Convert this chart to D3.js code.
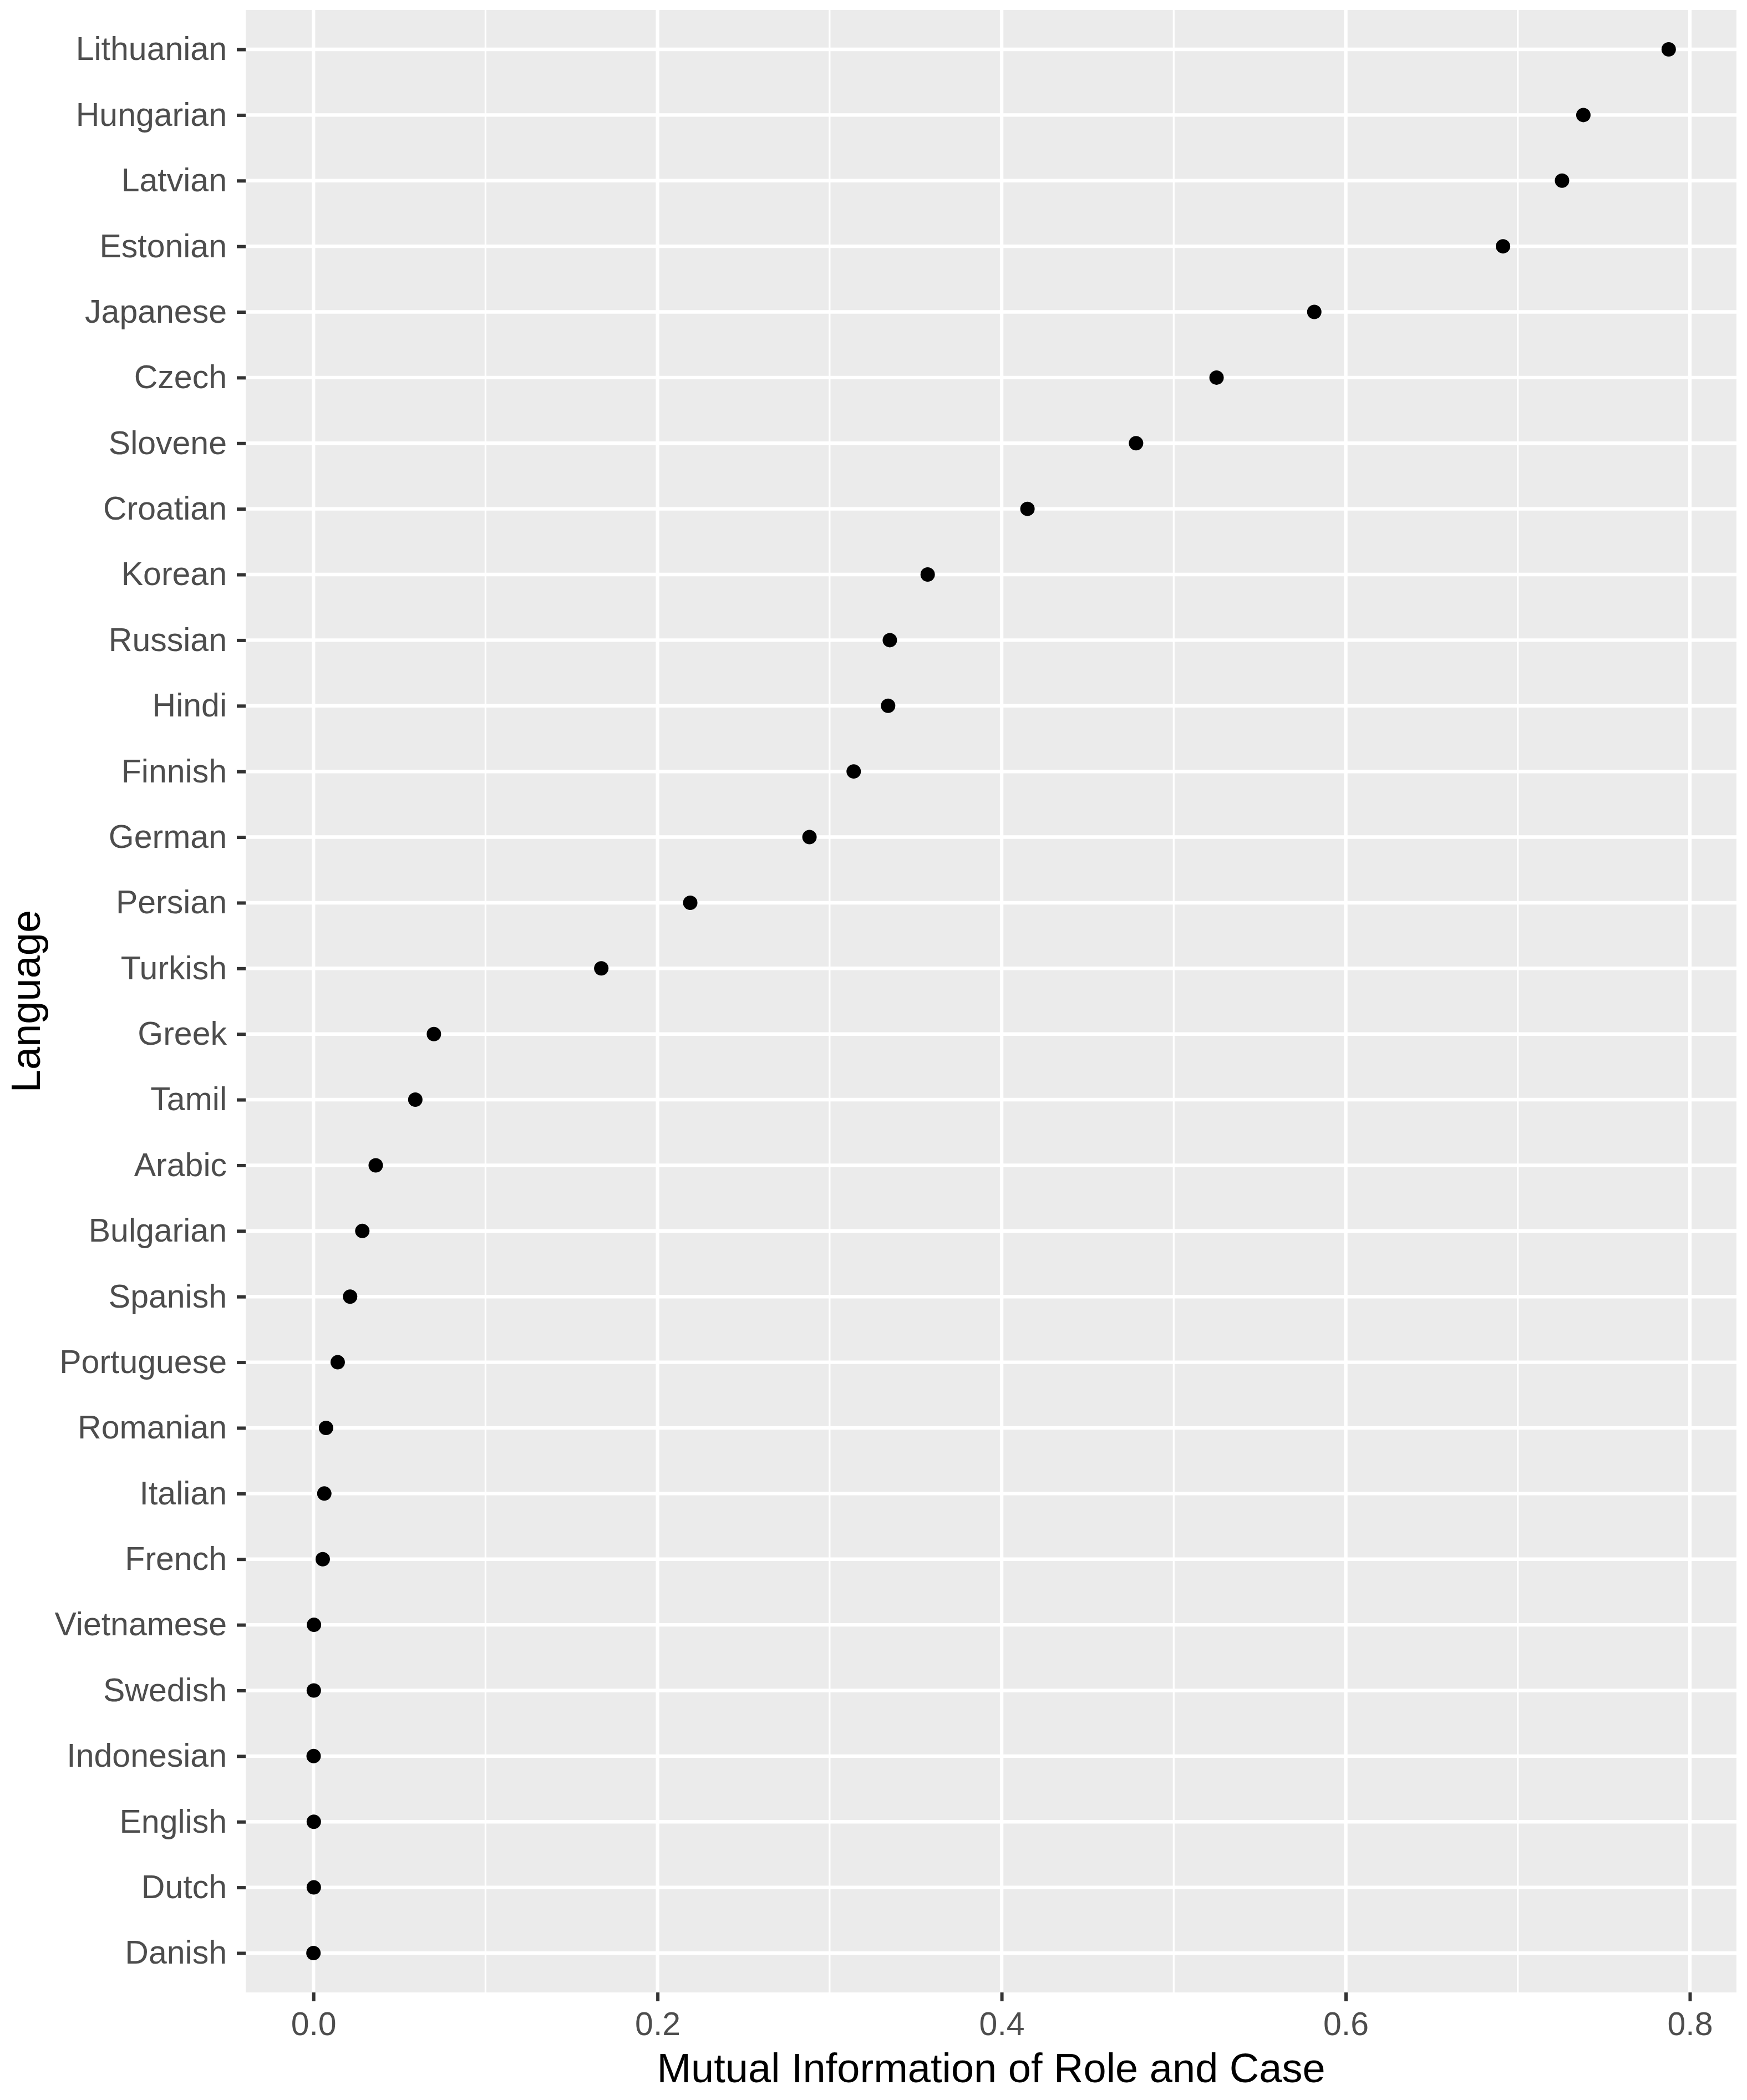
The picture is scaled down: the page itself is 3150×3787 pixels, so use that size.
<!DOCTYPE html>
<html>
<head>
<meta charset="utf-8">
<script src="https://cdn.jsdelivr.net/npm/d3@7"></script>
<style>
  body { margin: 0; background: #ffffff; }
  svg { display: block; font-family: "Liberation Sans", Arial, sans-serif; }
</style>
</head>
<body>
<div id="chart"></div>
<script>
// Languages, top to bottom, and their mutual information values.
const languages = [
  'Lithuanian', 'Hungarian', 'Latvian', 'Estonian', 'Japanese', 'Czech',
  'Slovene', 'Croatian', 'Korean', 'Russian', 'Hindi', 'Finnish', 'German',
  'Persian', 'Turkish', 'Greek', 'Tamil', 'Arabic', 'Bulgarian', 'Spanish',
  'Portuguese', 'Romanian', 'Italian', 'French', 'Vietnamese', 'Swedish',
  'Indonesian', 'English', 'Dutch', 'Danish'
];
const miValues = [
  0.7877, 0.7381, 0.7257, 0.6914, 0.5817, 0.5249,
  0.4781, 0.4150, 0.3570, 0.3350, 0.3340, 0.3140, 0.2883,
  0.2190, 0.1673, 0.0700, 0.0592, 0.0362, 0.0284, 0.0213,
  0.0141, 0.0073, 0.0063, 0.0054, 0.0003, 0.0002,
  0.0001, 0.0002, 0.0002, 0.0
];
const xTicks = [0, 0.2, 0.4, 0.6, 0.8];
const xMinorTicks = [0.1, 0.3, 0.5, 0.7];

const points = languages.map((lang, i) => ({ lang: lang, value: miValues[i] }));

// Dimensions.
const dims = {
  width: 3150,
  height: 3787,
  marginTop: 18,
  marginRight: 19,
  marginBottom: 194,
  marginLeft: 443,
};
const innerW = dims.width - dims.marginLeft - dims.marginRight;
const innerH = dims.height - dims.marginTop - dims.marginBottom;

const svg = d3.select('#chart')
  .append('svg')
  .attr('width', dims.width)
  .attr('height', dims.height);

const g = svg.append('g')
  .attr('transform', `translate(${dims.marginLeft},${dims.marginTop})`);

// Scales, with ggplot-style 5% padding on the continuous axis.
const xMin = Math.min(0, d3.min(miValues));
const xMax = d3.max(miValues);
const pad = (xMax - xMin) * 0.05;
const x = d3.scaleLinear()
  .domain([xMin - pad, xMax + pad])
  .range([0, innerW]);

const y = d3.scalePoint()
  .domain(languages)
  .range([0, innerH])
  .padding(0.6);

// Panel background.
g.append('rect')
  .attr('width', innerW)
  .attr('height', innerH)
  .attr('fill', '#ebebeb');

// Grid lines.
g.append('g')
  .selectAll('line')
  .data(xMinorTicks)
  .join('line')
  .attr('x1', d => x(d))
  .attr('x2', d => x(d))
  .attr('y1', 0)
  .attr('y2', innerH)
  .attr('stroke', '#ffffff')
  .attr('stroke-width', 3.2);

g.append('g')
  .selectAll('line')
  .data(xTicks)
  .join('line')
  .attr('x1', d => x(d))
  .attr('x2', d => x(d))
  .attr('y1', 0)
  .attr('y2', innerH)
  .attr('stroke', '#ffffff')
  .attr('stroke-width', 6.4);

g.append('g')
  .selectAll('line')
  .data(languages)
  .join('line')
  .attr('x1', 0)
  .attr('x2', innerW)
  .attr('y1', d => y(d))
  .attr('y2', d => y(d))
  .attr('stroke', '#ffffff')
  .attr('stroke-width', 6.4);

// Points.
g.append('g')
  .selectAll('circle')
  .data(points)
  .join('circle')
  .attr('cx', d => x(d.value))
  .attr('cy', d => y(d.lang))
  .attr('r', 13)
  .attr('fill', '#000000');

// Axes.
const xAxis = g.append('g')
  .attr('transform', `translate(0,${innerH})`)
  .call(d3.axisBottom(x)
    .tickValues(xTicks)
    .tickFormat(d3.format('.1f'))
    .tickSize(16)
    .tickPadding(19));

const yAxis = g.append('g')
  .call(d3.axisLeft(y)
    .tickSize(16)
    .tickPadding(18));

[xAxis, yAxis].forEach(ax => {
  ax.select('.domain').remove();
  ax.selectAll('.tick line')
    .attr('stroke', '#333333')
    .attr('stroke-width', 6);
  ax.selectAll('.tick text')
    .attr('fill', '#4d4d4d')
    .style('font-size', '59px')
    .style('font-family', '"Liberation Sans", Arial, sans-serif');
});

// Axis titles.
svg.append('text')
  .attr('x', dims.marginLeft + innerW / 2)
  .attr('y', 3755)
  .attr('text-anchor', 'middle')
  .attr('fill', '#000000')
  .style('font-size', '74px')
  .text('Mutual Information of Role and Case');

svg.append('text')
  .attr('transform', `translate(72,${dims.marginTop + innerH / 2}) rotate(-90)`)
  .attr('text-anchor', 'middle')
  .attr('fill', '#000000')
  .style('font-size', '74px')
  .text('Language');
</script>
</body>
</html>
